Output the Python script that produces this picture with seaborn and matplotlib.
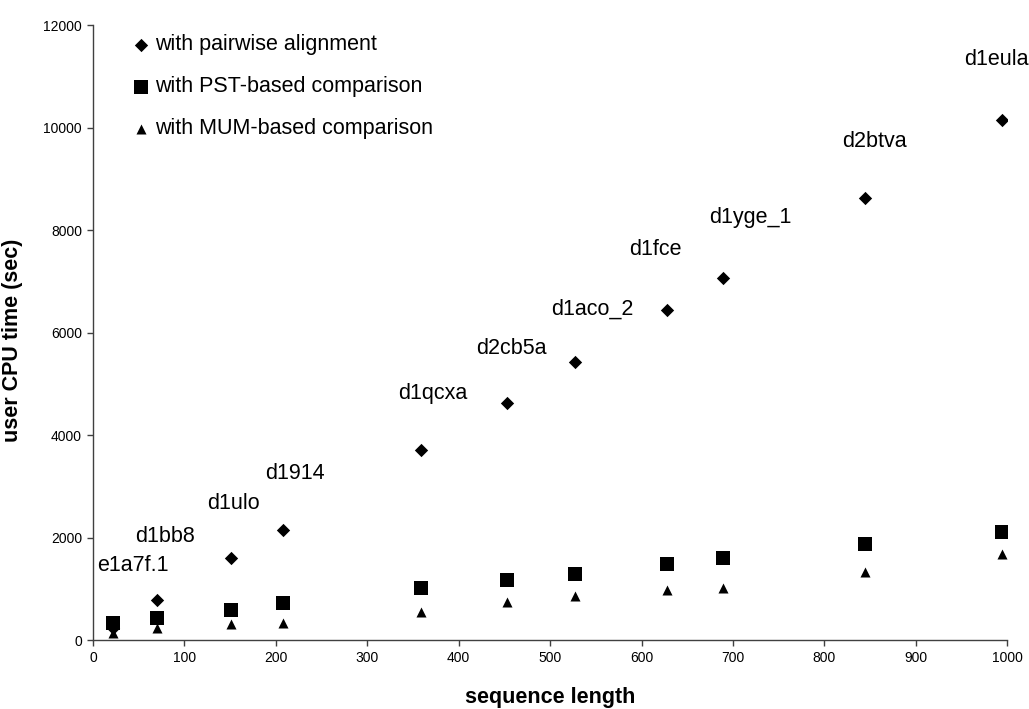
import matplotlib
matplotlib.use("Agg")
import matplotlib.pyplot as plt
import seaborn as sns
import pandas as pd

# ---- data ----
proteins = ["e1a7f.1", "d1bb8", "d1ulo", "d1914", "d1qcxa", "d2cb5a",
            "d1aco_2", "d1fce", "d1yge_1", "d2btva", "d1eula"]
seq_length = [22, 70, 151, 208, 359, 453, 527, 628, 689, 845, 994]
pairwise = [230, 780, 1594, 2146, 3707, 4630, 5424, 6439, 7058, 8619, 10146]
pst_based = [325, 423, 585, 715, 1021, 1171, 1288, 1483, 1594, 1873, 2101]
mum_based = [130, 228, 312, 338, 553, 748, 859, 976, 1008, 1321, 1678]

series_labels = ["with pairwise alignment", "with PST-based comparison",
                 "with MUM-based comparison"]
x_ticks = [0, 100, 200, 300, 400, 500, 600, 700, 800, 900, 1000]
y_ticks = [0, 2000, 4000, 6000, 8000, 10000, 12000]

# label offsets in pixels (dx, dy) relative to pairwise points
label_offsets = [(20, 63), (8, 64), (2, 55), (12, 57), (12, 57), (4, 54),
                 (18, 53), (-12, 61), (27, 61), (9, 57), (-5, 61)]

df = pd.DataFrame({
    "protein": proteins,
    "length": seq_length,
    "pairwise": pairwise,
    "pst": pst_based,
    "mum": mum_based,
})

sns.set_theme(style="white")
plt.rcParams["font.family"] = ["Liberation Sans", "DejaVu Sans"]
plt.rcParams["text.color"] = "black"
plt.rcParams["axes.labelcolor"] = "black"
plt.rcParams["xtick.color"] = "black"
plt.rcParams["ytick.color"] = "black"

fig = plt.figure(figsize=(10.29, 7.09), dpi=100)
ax = fig.add_axes([0.0904, 0.0973, 0.8884, 0.8674])

sns.scatterplot(data=df, x="length", y="pairwise", marker="D", s=46,
                color="black", edgecolor="black", linewidth=0,
                label=series_labels[0], ax=ax, zorder=2)
sns.scatterplot(data=df, x="length", y="pst", marker="s", s=100,
                color="black", edgecolor="black", linewidth=0,
                label=series_labels[1], ax=ax, zorder=3)
sns.scatterplot(data=df, x="length", y="mum", marker="^", s=52,
                color="black", edgecolor="black", linewidth=0,
                label=series_labels[2], ax=ax, zorder=4)

for name, xv, yv, (dx, dy) in zip(proteins, seq_length, pairwise, label_offsets):
    ax.annotate(name, (xv, yv), xytext=(dx, dy), textcoords="offset pixels",
                ha="center", va="center", fontsize=15.5, color="black")

ax.set_xlim(0, 1000)
ax.set_ylim(0, 12000)
ax.set_xticks(x_ticks)
ax.set_yticks(y_ticks)
ax.set_xticklabels([str(t) for t in x_ticks])
ax.set_yticklabels([str(t) for t in y_ticks])
ax.tick_params(axis="both", which="major", direction="out", length=4,
               width=1, color="#404040", labelsize=10, pad=4,
               labelcolor="black", bottom=True, left=True)

for side in ("top", "right"):
    ax.spines[side].set_visible(False)
for side in ("left", "bottom"):
    ax.spines[side].set_color("#404040")
    ax.spines[side].set_linewidth(1)

ax.set_xlabel("sequence length", fontsize=15.5, fontweight="bold", labelpad=16)
ax.set_ylabel("user CPU time (sec)", fontsize=15.5, fontweight="bold")
ax.yaxis.set_label_coords(-0.077, 0.488)

leg = ax.legend(loc="upper left", bbox_to_anchor=(0.035, 0.999), frameon=False,
                fontsize=15.5, handlelength=0.7, handletextpad=0.3,
                labelspacing=0.98, borderaxespad=0, labelcolor="black")

fig.savefig("out.png", dpi=100, facecolor="white")
